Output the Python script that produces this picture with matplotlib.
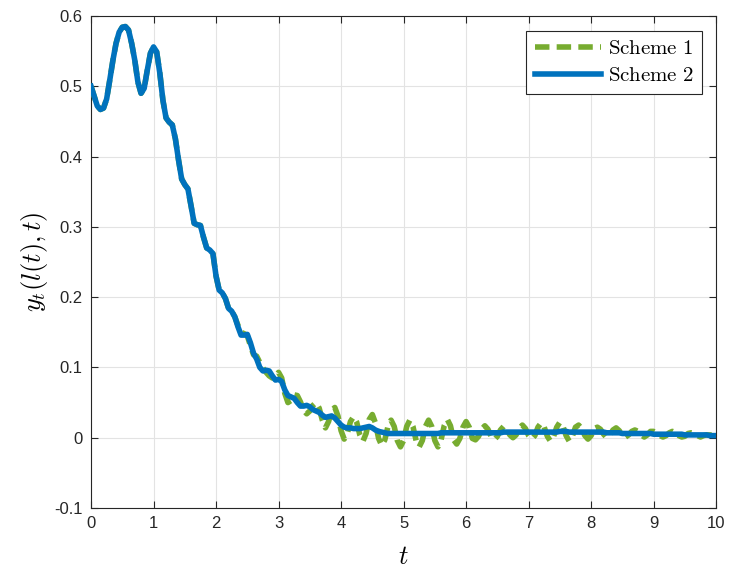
import numpy as np
import matplotlib
matplotlib.use("Agg")
import matplotlib.pyplot as plt

plt.rcParams['font.family'] = ['Liberation Sans', 'DejaVu Sans']
plt.rcParams['mathtext.fontset'] = 'cm'
plt.rcParams['axes.unicode_minus'] = False

# time grid, step 0.05
t = np.linspace(0, 10, 201)

# Scheme 2 output y_t(l(t),t)
scheme2 = [
    0.500, 0.486, 0.472, 0.467, 0.469, 0.482, 0.509, 0.537, 0.561, 0.577,
    0.584, 0.585, 0.580, 0.561, 0.537, 0.506, 0.490, 0.497, 0.523, 0.547,
    0.556, 0.549, 0.519, 0.480, 0.455, 0.449, 0.445, 0.425, 0.395, 0.368,
    0.360, 0.354, 0.330, 0.305, 0.303, 0.302, 0.285, 0.270, 0.267, 0.262,
    0.230, 0.210, 0.206, 0.198, 0.184, 0.180, 0.172, 0.158, 0.146, 0.146,
    0.147, 0.135, 0.120, 0.112, 0.100, 0.095, 0.096, 0.095, 0.088, 0.082,
    0.083, 0.080, 0.068, 0.060, 0.058, 0.056, 0.050, 0.045, 0.045, 0.046,
    0.044, 0.040, 0.038, 0.036, 0.032, 0.029, 0.030, 0.031, 0.028, 0.023,
    0.018, 0.015, 0.014, 0.014, 0.013, 0.013, 0.013, 0.014, 0.015, 0.016,
    0.014, 0.011, 0.009, 0.008, 0.007, 0.006, 0.006, 0.006, 0.006, 0.006,
    0.006, 0.006, 0.006, 0.006, 0.006, 0.006, 0.006, 0.006, 0.006, 0.006,
    0.006, 0.006, 0.007, 0.007, 0.007, 0.007, 0.007, 0.007, 0.007, 0.007,
    0.007, 0.007, 0.007, 0.007, 0.007, 0.007, 0.007, 0.007, 0.007, 0.007,
    0.007, 0.007, 0.008, 0.008, 0.008, 0.008, 0.008, 0.008, 0.008, 0.008,
    0.008, 0.008, 0.008, 0.008, 0.008, 0.008, 0.008, 0.008, 0.008, 0.008,
    0.009, 0.009, 0.009, 0.008, 0.008, 0.008, 0.008, 0.008, 0.008, 0.008,
    0.008, 0.008, 0.008, 0.008, 0.008, 0.007, 0.007, 0.007, 0.007, 0.007,
    0.006, 0.006, 0.006, 0.006, 0.006, 0.006, 0.006, 0.006, 0.006, 0.006,
    0.005, 0.005, 0.005, 0.005, 0.005, 0.005, 0.005, 0.005, 0.005, 0.005,
    0.004, 0.004, 0.004, 0.004, 0.004, 0.004, 0.004, 0.004, 0.003, 0.003,
    0.003,
]

# Scheme 1 output, same as scheme 2 early on, then oscillating around it
scheme1 = [
    0.500, 0.486, 0.472, 0.467, 0.469, 0.482, 0.509, 0.537, 0.561, 0.577,
    0.584, 0.585, 0.580, 0.561, 0.537, 0.506, 0.490, 0.497, 0.523, 0.547,
    0.556, 0.549, 0.519, 0.480, 0.455, 0.449, 0.445, 0.425, 0.395, 0.368,
    0.360, 0.354, 0.330, 0.305, 0.303, 0.302, 0.285, 0.270, 0.267, 0.262,
    0.230, 0.210, 0.206, 0.198, 0.184, 0.180, 0.172, 0.160, 0.150, 0.148,
    0.145, 0.131, 0.118, 0.116, 0.107, 0.099, 0.093, 0.088, 0.085, 0.086,
    0.093, 0.085, 0.063, 0.050, 0.053, 0.061, 0.060, 0.051, 0.039, 0.034,
    0.038, 0.046, 0.050, 0.042, 0.025, 0.014, 0.023, 0.039, 0.043, 0.031,
    0.010, -0.002, 0.006, 0.023, 0.030, 0.022, 0.004, -0.005, 0.006, 0.026,
    0.033, 0.021, -0.001, -0.011, -0.003, 0.016, 0.025, 0.016, -0.004, -0.013,
    -0.004, 0.016, 0.025, 0.016, -0.004, -0.013, -0.004, 0.016, 0.025, 0.016,
    -0.004, -0.013, -0.003, 0.017, 0.026, 0.017, -0.003, -0.009, -0.001, 0.015,
    0.023, 0.015, -0.001, -0.003, 0.002, 0.012, 0.017, 0.012, 0.002, -0.003,
    0.002, 0.011, 0.016, 0.012, 0.004, 0.000, 0.004, 0.013, 0.018, 0.013,
    0.003, -0.002, 0.003, 0.015, 0.021, 0.015, 0.002, -0.005, 0.002, 0.015,
    0.022, 0.016, 0.003, -0.005, 0.002, 0.015, 0.018, 0.013, 0.003, -0.002,
    0.003, 0.013, 0.015, 0.012, 0.005, 0.000, 0.004, 0.011, 0.014, 0.010,
    0.004, 0.001, 0.004, 0.009, 0.011, 0.009, 0.004, 0.001, 0.004, 0.009,
    0.009, 0.007, 0.003, 0.001, 0.003, 0.007, 0.009, 0.007, 0.003, 0.001,
    0.002, 0.006, 0.007, 0.006, 0.003, 0.001, 0.003, 0.004, 0.004, 0.004,
    0.003,
]

x_ticks = np.arange(0, 11, 1)
y_ticks = [-0.1, 0, 0.1, 0.2, 0.3, 0.4, 0.5, 0.6]
y_tick_labels = ['-0.1', '0', '0.1', '0.2', '0.3', '0.4', '0.5', '0.6']

fig = plt.figure(figsize=(7.3, 5.69), dpi=100)
ax = fig.add_axes([0.1247, 0.1072, 0.8563, 0.8647])

ax.plot(t, scheme1, color='#77AC30', lw=4, linestyle=(0, (2.6, 1.3)),
        dash_joinstyle='round', label=r'$\mathrm{Scheme\ 1}$', zorder=3)
ax.plot(t, scheme2, color='#0072BD', lw=4, solid_joinstyle='round',
        label=r'$\mathrm{Scheme\ 2}$', zorder=4)

ax.set_xlim(0, 10)
ax.set_ylim(-0.1, 0.6)
ax.set_xticks(x_ticks)
ax.set_yticks(y_ticks)
ax.set_yticklabels(y_tick_labels)

ax.grid(True, color='#e3e3e3', lw=0.8)
ax.set_axisbelow(True)
ax.tick_params(direction='in', top=True, right=True, labelsize=12,
               colors='#262626', length=5, width=0.8, pad=6)
for s in ax.spines.values():
    s.set_color('#262626')
    s.set_linewidth(0.8)

ax.set_xlabel(r'$t$', fontsize=19, labelpad=10)
ax.set_ylabel(r'$y_t(l(t),t)$', fontsize=19, labelpad=3)

leg = ax.legend(loc='upper right', fontsize=15, handlelength=3.2,
                fancybox=False, edgecolor='#262626', framealpha=1,
                borderpad=0.4, labelspacing=0.4, handletextpad=0.3,
                borderaxespad=0.7)
leg.get_frame().set_linewidth(0.8)

fig.savefig('out.png', dpi=100)
